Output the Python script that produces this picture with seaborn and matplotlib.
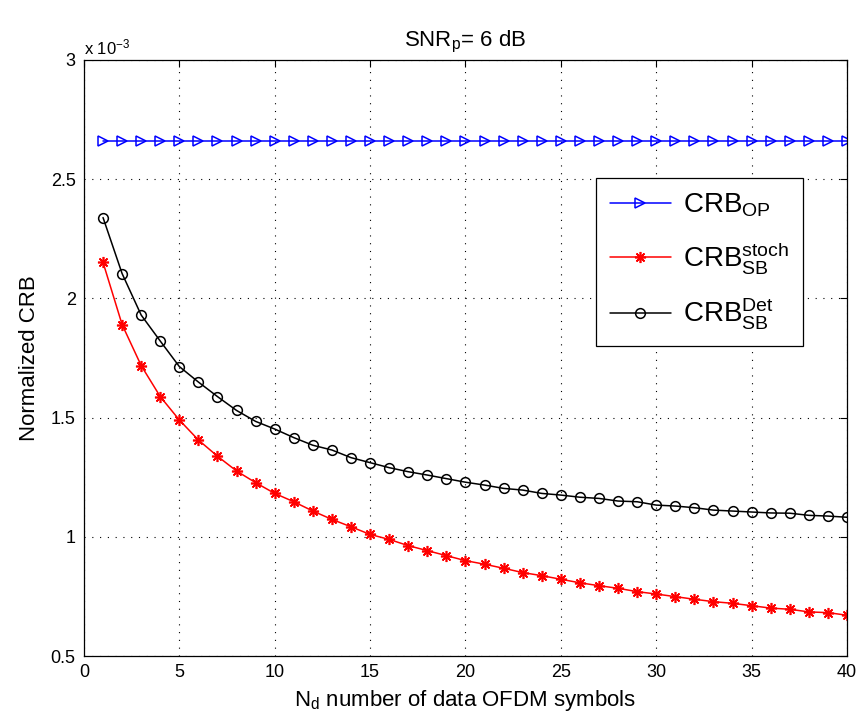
import numpy as np
import pandas as pd
import matplotlib
matplotlib.use("Agg")
import matplotlib.pyplot as plt
import seaborn as sns

# ---- data (values in units of 1e-3) ----
nd = list(range(1, 41))
crb_op = [2.66, 2.66, 2.66, 2.66, 2.66, 2.66, 2.66, 2.66, 2.66, 2.66,
          2.66, 2.66, 2.66, 2.66, 2.66, 2.66, 2.66, 2.66, 2.66, 2.66,
          2.66, 2.66, 2.66, 2.66, 2.66, 2.66, 2.66, 2.66, 2.66, 2.66,
          2.66, 2.66, 2.66, 2.66, 2.66, 2.66, 2.66, 2.66, 2.66, 2.66]
crb_stoch = [2.151, 1.890, 1.718, 1.588, 1.490, 1.406, 1.338, 1.276, 1.227, 1.182,
             1.147, 1.108, 1.073, 1.042, 1.010, 0.989, 0.963, 0.942, 0.921, 0.900,
             0.885, 0.868, 0.850, 0.837, 0.822, 0.807, 0.795, 0.784, 0.770, 0.760,
             0.749, 0.738, 0.728, 0.721, 0.711, 0.701, 0.696, 0.685, 0.682, 0.671]
crb_det = [2.339, 2.104, 1.930, 1.821, 1.714, 1.649, 1.588, 1.530, 1.484, 1.452,
           1.416, 1.384, 1.364, 1.332, 1.311, 1.290, 1.273, 1.259, 1.244, 1.229,
           1.217, 1.203, 1.196, 1.182, 1.175, 1.166, 1.161, 1.150, 1.147, 1.133,
           1.129, 1.122, 1.112, 1.108, 1.104, 1.100, 1.099, 1.090, 1.087, 1.082]
labels = [r'CRB$_{\mathrm{OP}}$', r'CRB$^{\mathrm{stoch}}_{\mathrm{SB}}$', r'CRB$^{\mathrm{Det}}_{\mathrm{SB}}$']
x_ticks = [0, 5, 10, 15, 20, 25, 30, 35, 40]
y_ticks = [0.5, 1, 1.5, 2, 2.5, 3]
y_tick_labels = ['0.5', '1', '1.5', '2', '2.5', '3']

sns.set_theme(style="white")
plt.rcParams['font.family'] = ['Liberation Sans', 'DejaVu Sans']
plt.rcParams['mathtext.fontset'] = 'custom'
plt.rcParams['mathtext.rm'] = 'Liberation Sans'
plt.rcParams['mathtext.it'] = 'Liberation Sans:italic'
plt.rcParams['mathtext.bf'] = 'Liberation Sans:bold'
plt.rcParams['text.color'] = 'black'
plt.rcParams['axes.labelcolor'] = 'black'
plt.rcParams['xtick.color'] = 'black'
plt.rcParams['ytick.color'] = 'black'

fig = plt.figure(figsize=(8.62, 7.26), dpi=100)
ax = fig.add_axes([0.0974, 0.0964, 0.8852, 0.821])

df = pd.DataFrame({'nd': nd, 'op': crb_op, 'stoch': crb_stoch, 'det': crb_det})

sns.lineplot(data=df, x='nd', y='op', ax=ax, color='#0000ff', marker='>', markersize=7,
             markerfacecolor='none', markeredgecolor='#0000ff', markeredgewidth=1.1,
             linewidth=1.1, label=labels[0])
sns.lineplot(data=df, x='nd', y='stoch', ax=ax, color='#ff0000', marker=(8, 2, 0), markersize=8,
             markerfacecolor='#ff0000', markeredgecolor='#ff0000', markeredgewidth=1.2,
             linewidth=1.1, label=labels[1])
sns.lineplot(data=df, x='nd', y='det', ax=ax, color='black', marker='o', markersize=7,
             markerfacecolor='none', markeredgecolor='black', markeredgewidth=1.1,
             linewidth=1.1, label=labels[2])

ax.set_xlim(0, 40)
ax.set_ylim(0.5, 3)
ax.set_xticks(x_ticks)
ax.set_yticks(y_ticks)
ax.set_yticklabels(y_tick_labels)
ax.tick_params(direction='in', top=True, right=True, length=5, width=0.8,
               labelsize=13, colors='black', pad=6)
ax.grid(True, linestyle=(0, (1, 6)), color='black', linewidth=0.8)
for s in ax.spines.values():
    s.set_color('black')
    s.set_linewidth(0.9)

ax.set_xlabel(r'N$_{\mathrm{d}}$ number of data OFDM symbols', fontsize=16, labelpad=5)
ax.set_ylabel('Normalized CRB', fontsize=16, labelpad=8)
ax.set_title(r'SNR$_{\mathrm{p}}$= 6 dB', fontsize=16, pad=10)
ax.text(0.0, 1.005, r'x 10$^{-3}$', transform=ax.transAxes, fontsize=12, ha='left', va='bottom')

leg = ax.legend(loc='upper left', bbox_to_anchor=(0.671, 0.802), fontsize=20,
                frameon=True, fancybox=False, edgecolor='black', framealpha=1,
                handlelength=2.2, borderpad=0.5, labelspacing=0.75, handletextpad=0.45,
                borderaxespad=0)
leg.get_frame().set_linewidth(0.9)

fig.savefig('out.png', dpi=100)
